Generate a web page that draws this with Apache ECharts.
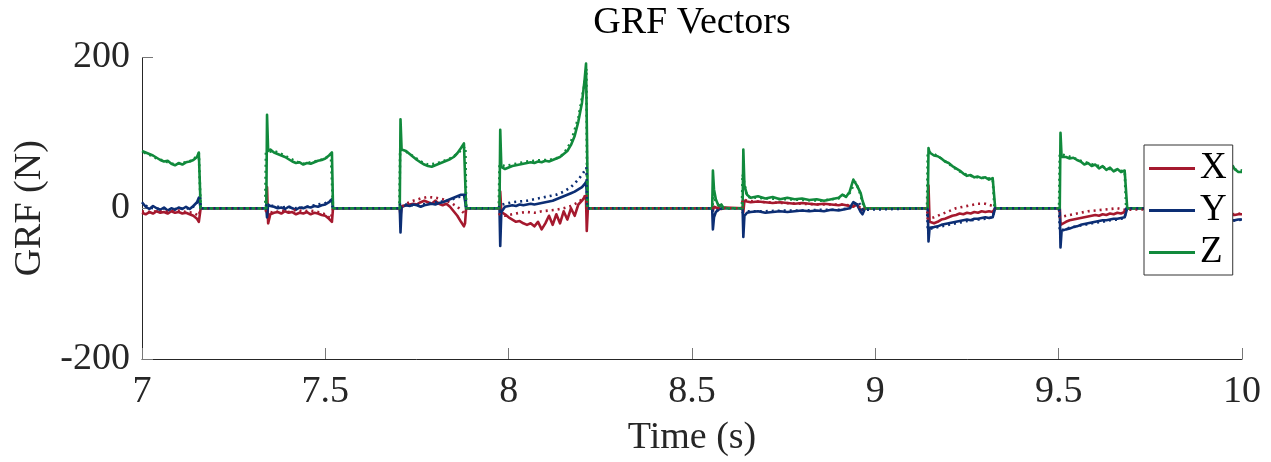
<!DOCTYPE html>
<html>
<head>
<meta charset="utf-8">
<script src="https://cdn.jsdelivr.net/npm/echarts@6/dist/echarts.min.js"></script>
<style>
html,body{margin:0;padding:0;background:#fff;}
#chart{width:1271px;height:462px;}
</style>
</head>
<body>
<div id="chart"></div>
<script>
// ---- data (time in s, force in N) ----
const xTicks = [7, 7.5, 8, 8.5, 9, 9.5, 10];
const yTicks = [-200, 0, 200];
const legendNames = ['X', 'Y', 'Z'];

const solidTime = [
  7.000,7.010,7.020,7.030,7.040,7.050,7.060,7.070,7.080,7.090,7.100,7.110,7.120,7.130,7.140,7.150,7.155,7.158,7.160,
  7.339,7.341,7.344,7.350,7.360,7.370,7.380,7.390,7.400,7.410,7.420,7.430,7.440,7.450,7.460,7.470,7.480,7.490,7.500,7.510,7.518,7.521,
  7.703,7.705,7.708,7.720,7.730,7.740,7.750,7.760,7.770,7.780,7.790,7.800,7.810,7.820,7.830,7.840,7.850,7.860,7.870,7.878,7.881,7.884,
  7.975,7.977,7.980,7.990,8.000,8.010,8.020,8.030,8.040,8.050,8.060,8.070,8.080,8.090,8.100,8.110,8.120,8.130,8.140,8.150,8.160,8.170,8.180,8.190,8.200,8.207,8.211,8.213,8.216,
  8.555,8.557,8.560,8.565,8.570,8.575,8.580,8.585,8.590,8.595,
  8.638,8.640,8.643,8.650,8.660,8.680,8.700,8.720,8.740,8.760,8.780,8.800,8.820,8.840,8.860,8.880,8.900,8.910,8.920,8.930,8.940,8.945,8.950,8.960,8.965,8.972,
  9.143,9.145,9.148,9.160,9.170,9.180,9.190,9.200,9.210,9.220,9.230,9.240,9.250,9.260,9.270,9.280,9.290,9.300,9.310,9.320,9.325,9.327,
  9.503,9.505,9.508,9.520,9.530,9.540,9.550,9.560,9.570,9.580,9.590,9.600,9.610,9.620,9.630,9.640,9.650,9.660,9.670,9.680,9.685,9.687,
  9.859,9.861,9.865,9.880,9.900,9.920,9.940,9.960,9.970,9.975,9.980,9.990,10.000
];
const solidX = [
  -6,-8,-5,-7,-4,-6,-5,-7,-4,-6,-5,-7,-6,-8,-10,-14,-18,-18,0,
  0,28,-20,-8,-6,-5,-7,-4,-6,-5,-8,-6,-7,-5,-8,-6,-7,-9,-10,-14,-18,0,
  0,-10,2,4,5,6,5,8,10,8,6,10,6,4,6,2,-4,-10,-18,-24,-20,0,
  0,22,-5,-8,-12,-15,-18,-17,-20,-22,-20,-24,-18,-28,-20,-10,-22,-8,-20,-4,-15,0,-10,5,10,15,12,-30,0,
  0,-3,2,1,0,1,-1,0,1,0,
  0,-5,10,9,8,9,8,7,8,7,6,7,6,5,6,5,4,5,4,3,2,3,5,-3,-5,0,
  0,30,-18,-20,-18,-15,-14,-12,-10,-9,-7,-8,-6,-7,-5,-6,-4,-5,-4,-5,-6,0,
  0,-22,-20,-18,-16,-15,-14,-13,-12,-11,-10,-9,-10,-8,-9,-7,-8,-6,-7,-5,-6,0,
  0,-20,-18,-16,-14,-12,-11,-10,-9,-8,-9,-8,-8
];
const solidY = [
  8,2,-1,3,0,-2,1,-3,0,-2,1,-1,2,-1,3,8,14,12,0,
  0,-12,5,3,2,0,1,-1,2,0,-2,1,0,2,1,3,2,4,5,8,12,0,
  0,-32,2,4,3,5,4,2,4,5,6,5,7,8,10,12,14,16,18,18,10,0,
  0,-50,-5,2,3,4,3,5,4,5,6,5,6,7,8,9,10,12,14,16,18,20,22,25,28,32,35,20,0,
  0,-28,-12,-5,-3,-1,-2,0,-1,0,
  0,-38,-10,-6,-5,-4,-6,-5,-4,-5,-4,-3,-4,-3,-4,-2,-3,-2,-1,0,8,6,5,-5,-8,0,
  0,-44,-26,-25,-24,-22,-21,-20,-19,-18,-17,-16,-15,-16,-14,-14,-13,-12,-13,-12,-10,0,
  0,-52,-30,-28,-27,-25,-24,-22,-21,-20,-19,-18,-17,-16,-16,-15,-14,-14,-13,-12,-12,0,
  0,-40,-28,-25,-22,-20,-18,-17,-16,-15,-16,-15,-15
];
const solidZ = [
  76,74,72,70,67,64,62,63,59,57,60,58,61,62,64,68,74,74,0,
  0,124,76,78,74,72,70,68,65,62,60,61,58,60,59,61,63,64,66,70,74,0,
  0,118,78,76,72,68,64,61,58,56,55,57,59,61,63,65,68,73,80,86,86,0,
  0,104,55,52,54,56,57,58,59,60,61,60,62,61,63,62,64,66,68,72,76,84,96,115,140,170,192,190,0,
  0,50,25,12,6,2,5,1,3,0,
  0,78,30,18,14,16,13,15,12,14,12,13,11,12,10,12,14,18,15,22,38,40,30,20,10,0,
  0,80,74,70,69,66,62,60,56,53,50,46,43,44,41,42,40,41,38,40,39,0,
  0,100,68,68,66,67,64,62,58,60,56,58,53,56,51,54,49,52,48,50,49,0,
  0,74,70,65,62,58,55,52,50,56,52,48,48
];

const dottedTime = [
  7.000,7.020,7.040,7.060,7.080,7.100,7.120,7.140,7.155,7.158,7.160,
  7.336,7.338,7.360,7.380,7.400,7.420,7.440,7.460,7.480,7.500,7.515,7.519,7.521,
  7.702,7.704,7.720,7.740,7.760,7.780,7.800,7.820,7.840,7.860,7.875,7.882,7.884,
  7.973,7.975,7.990,8.010,8.030,8.050,8.070,8.090,8.110,8.130,8.150,8.170,8.190,8.205,8.212,8.214,
  8.556,8.558,8.565,8.575,8.585,
  8.636,8.638,8.650,8.700,8.750,8.800,8.850,8.900,8.930,8.945,8.955,8.965,8.970,
  9.141,9.143,9.160,9.180,9.200,9.220,9.240,9.260,9.280,9.300,9.320,9.325,
  9.501,9.503,9.520,9.540,9.560,9.580,9.600,9.620,9.640,9.660,9.680,9.684,
  9.858,9.860,9.900,9.940,9.970,10.000
];
const dottedX = [
  -4,-5,-4,-5,-4,-3,-5,-6,-10,-12,0,
  0,-4,-6,-3,-5,-2,-4,-3,-5,-8,-14,-15,0,
  0,2,6,10,13,15,14,12,8,2,-5,-8,0,
  0,-8,-10,-8,-6,-5,-6,-4,-3,-2,0,3,8,14,20,0,
  0,2,1,0,0,
  0,12,10,8,7,6,5,5,4,3,2,0,0,
  0,-14,-12,-8,-4,0,2,4,6,6,3,0,
  0,-12,-10,-8,-6,-4,-3,-2,-1,0,-2,0,
  0,-15,-12,-10,-8,-7
];
const dottedY = [
  6,1,-1,0,-2,0,-1,2,10,14,0,
  0,4,3,1,2,0,1,3,5,7,10,12,0,
  0,5,5,4,5,6,8,9,11,14,17,18,0,
  0,4,6,8,9,10,12,14,16,18,22,28,38,48,54,0,
  0,-10,-4,-1,0,
  0,-6,-4,-4,-3,-3,-2,-2,0,6,8,-2,0,
  0,-28,-26,-24,-22,-20,-18,-16,-15,-14,-12,0,
  0,-30,-27,-25,-23,-21,-19,-18,-16,-15,-13,0,
  0,-30,-25,-20,-17,-15
];
const dottedZ = [
  75,71,66,63,59,59,61,64,73,72,0,
  0,74,76,72,67,62,59,61,63,66,72,70,0,
  0,78,75,69,62,58,59,62,66,72,80,82,0,
  0,58,56,58,60,62,63,64,64,66,72,88,120,160,185,0,
  0,20,8,2,0,
  0,45,15,13,12,11,10,13,20,35,25,8,0,
  0,75,72,66,59,52,46,43,41,40,39,0,
  0,72,70,67,63,60,57,55,52,50,49,0,
  0,70,62,56,52,50
];

// ---- chart ----
const FONT = 'Liberation Serif';
const COLORS = {X: '#A5192E', Y: '#0C2E74', Z: '#118A3C'};
const pairs = (t, v) => t.map((ti, i) => [ti, v[i]]);

function solidSeries(name, vals) {
  return {
    name: name, type: 'line', data: pairs(solidTime, vals),
    symbol: 'none', showSymbol: false, animation: false,
    color: COLORS[name],
    lineStyle: {color: COLORS[name], width: 2.6, join: 'round'}
  };
}
function dottedSeries(name, vals, offset) {
  return {
    name: name + ' (dotted)', type: 'line', data: pairs(dottedTime, vals),
    symbol: 'none', showSymbol: false, animation: false,
    color: COLORS[name],
    lineStyle: {color: COLORS[name], width: 2.6, type: [2, 4], dashOffset: offset}
  };
}

const chart = echarts.init(document.getElementById('chart'), null, {renderer: 'canvas'});
chart.setOption({
  backgroundColor: '#ffffff',
  animation: false,
  title: {
    text: 'GRF Vectors', left: 692, top: 4, padding: 0, textAlign: 'center',
    textStyle: {fontFamily: FONT, fontSize: 38, fontWeight: 'normal', color: '#000'}
  },
  grid: {left: 142, right: 29, top: 57.5, bottom: 101.7, containLabel: false},
  legend: {
    data: legendNames, orient: 'vertical', left: 1144, top: 145,
    padding: [5, 6, 4, 5], itemGap: 5, itemWidth: 46, itemHeight: 3, icon: 'rect',
    backgroundColor: '#fff', borderColor: '#333', borderWidth: 1, borderRadius: 0,
    textStyle: {fontFamily: FONT, fontSize: 37, color: '#000', lineHeight: 36, padding: [0, 0, 0, 0]},
    selectedMode: false, z: 10
  },
  xAxis: {
    type: 'value', min: 7, max: 10, interval: 0.5,
    name: 'Time (s)', nameLocation: 'middle', nameGap: 60,
    nameTextStyle: {fontFamily: FONT, fontSize: 38, color: '#262626'},
    axisLine: {show: true, onZero: false, lineStyle: {color: '#262626', width: 1}},
    axisTick: {show: true, inside: true, length: 11, lineStyle: {color: '#777'}},
    axisLabel: {fontFamily: FONT, fontSize: 38, color: '#262626', margin: 14,
      formatter: v => (xTicks.indexOf(v) >= 0 ? String(v) : '')},
    splitLine: {show: false}
  },
  yAxis: {
    type: 'value', min: -200, max: 200, interval: 200,
    name: 'GRF (N)', nameLocation: 'middle', nameGap: 86,
    nameTextStyle: {fontFamily: FONT, fontSize: 38, color: '#262626'},
    axisLine: {show: true, lineStyle: {color: '#262626', width: 1}},
    axisTick: {show: true, inside: true, length: 11, lineStyle: {color: '#777'}},
    axisLabel: {fontFamily: FONT, fontSize: 38, color: '#262626', margin: 12,
      formatter: v => (yTicks.indexOf(v) >= 0 ? String(v) : '')},
    splitLine: {show: false}
  },
  series: [
    solidSeries('X', solidX),
    solidSeries('Y', solidY),
    solidSeries('Z', solidZ),
    dottedSeries('X', dottedX, 0),
    dottedSeries('Y', dottedY, 2),
    dottedSeries('Z', dottedZ, 4)
  ]
});
</script>
</body>
</html>
